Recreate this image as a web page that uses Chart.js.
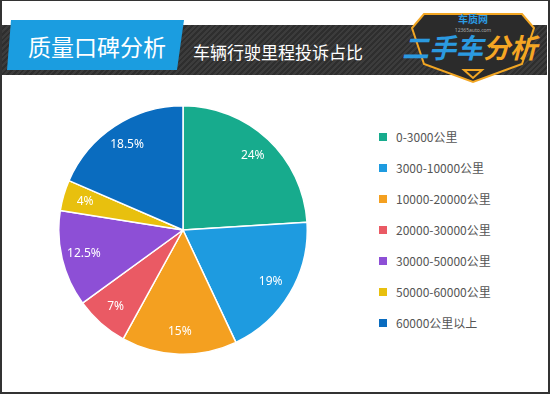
<!DOCTYPE html>
<html>
<head>
<meta charset="utf-8">
<script src="https://cdn.jsdelivr.net/npm/chart.js@4"></script>
<style>
  html, body { margin: 0; padding: 0; background: #fff; }
  body { width: 550px; height: 394px; position: relative; overflow: hidden; font-family: "Noto Sans CJK SC", "Noto Sans", sans-serif; }
  .frame { position: absolute; left: 0; top: 0; width: 546px; height: 391px; border: 2px solid #333; border-top-width: 1px; border-right-width: 2px; }
  .band {
    position: absolute; left: 2px; top: 25px; width: 545px; height: 50px;
    background: repeating-linear-gradient(135deg, #3c3c3c 0px, #3c3c3c 2px, #2e2e2e 2px, #2e2e2e 4px);
  }
  .title-box {
    position: absolute; left: 7px; top: 20px; width: 177px; height: 50px;
    background: #1b9de0; clip-path: polygon(4px 0, 100% 0, 170px 100%, 0 100%);
  }
  .title { position: absolute; left: 28px; top: 30px; color: #fff; font-size: 23px; line-height: 32px; }
  .subtitle { position: absolute; left: 193px; top: 40px; color: #fff; font-size: 17px; line-height: 24px; }
  .logo { position: absolute; left: 400px; top: 6px; width: 146px; height: 78px; }
  .chart-box { position: absolute; left: 58px; top: 105px; width: 250px; height: 250px; }
  .legend { position: absolute; left: 379px; top: 127px; font-size: 12px; color: #555; }
  .legend div { height: 31px; line-height: 20px; position: relative; padding-left: 17px; white-space: nowrap; }
  .legend span { position: absolute; left: 0; top: 6px; width: 8px; height: 8px; }
</style>
</head>
<body>
<div class="frame"></div>
<div class="band"></div>
<div class="title-box"></div>
<div class="title">质量口碑分析</div>
<div class="subtitle">车辆行驶里程投诉占比</div>
<svg class="logo" viewBox="0 0 146 78">
  <polygon points="24,8 122,8 134,22 122,58 73,76 24,58 12,22" fill="#2b2b2b" stroke="#f2a623" stroke-width="2"/>
  <text x="73" y="17" text-anchor="middle" font-size="10" font-weight="bold" fill="#2b9ae0" font-family="Noto Sans CJK SC">车质网</text>
  <text x="73" y="26" text-anchor="middle" font-size="5" fill="#aaa" font-family="Noto Sans">12365auto.com</text>
  <text x="2" y="52" font-size="27" font-weight="bold" font-style="italic" fill="#2b9ae0" font-family="Noto Sans CJK SC">二手车<tspan fill="#f5a623">分析</tspan></text>
  <polygon points="64,64 73,72 82,64" fill="none" stroke="#f2a623" stroke-width="2"/>
</svg>
<div class="chart-box"><canvas id="pieChart"></canvas></div>
<div class="legend" id="legend"></div>
<script>
const mileageLabels = ['0-3000公里', '3000-10000公里', '10000-20000公里', '20000-30000公里', '30000-50000公里', '50000-60000公里', '60000公里以上'];
const complaintShares = [24, 19, 15, 7, 12.5, 4, 18.5];
const sliceColors = ['#17ab8d', '#1e9be0', '#f4a020', '#ea5a64', '#8d4fd6', '#e8c00e', '#0a6cbf'];

// legend on the right
const legendEl = document.getElementById('legend');
mileageLabels.forEach((label, i) => {
  const row = document.createElement('div');
  row.innerHTML = `<span style="background:${sliceColors[i]}"></span>${label}`;
  legendEl.appendChild(row);
});

// percent labels inside slices
const sliceLabels = {
  id: 'sliceLabels',
  afterDatasetsDraw(chart) {
    const ctx = chart.ctx;
    const meta = chart.getDatasetMeta(0);
    ctx.save();
    ctx.fillStyle = '#fff';
    ctx.font = '12px "Noto Sans", sans-serif';
    ctx.textAlign = 'center';
    ctx.textBaseline = 'middle';
    meta.data.forEach((arc, i) => {
      const p = arc.getProps(['x', 'y', 'startAngle', 'endAngle', 'outerRadius']);
      const mid = (p.startAngle + p.endAngle) / 2;
      const r = p.outerRadius * 0.82;
      ctx.fillText(complaintShares[i] + '%', p.x + Math.cos(mid) * r, p.y + Math.sin(mid) * r);
    });
    ctx.restore();
  }
};

new Chart(document.getElementById('pieChart'), {
  type: 'pie',
  data: {
    labels: mileageLabels,
    datasets: [{
      data: complaintShares,
      backgroundColor: sliceColors,
      borderColor: '#fff',
      borderWidth: 1.5
    }]
  },
  options: {
    responsive: true,
    maintainAspectRatio: false,
    animation: false,
    layout: { padding: 0 },
    plugins: { legend: { display: false }, tooltip: { enabled: false } }
  },
  plugins: [sliceLabels]
});
</script>
</body>
</html>
